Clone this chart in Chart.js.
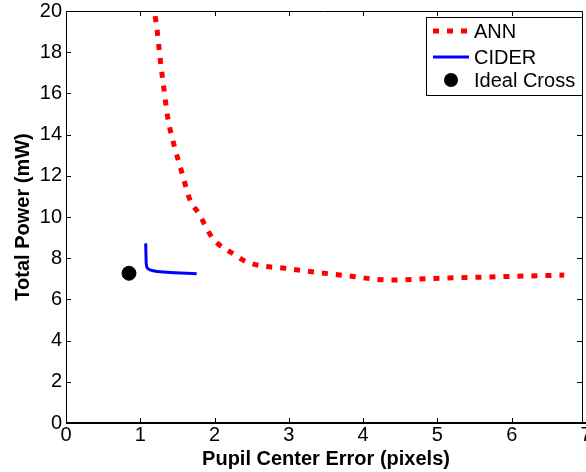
<!DOCTYPE html>
<html>
<head>
<meta charset="utf-8">
<script src="https://cdn.jsdelivr.net/npm/chart.js@4"></script>
<style>
  html, body { margin: 0; padding: 0; background: #fff; }
  #wrap { width: 586px; height: 472px; }
</style>
</head>
<body>
<div id="wrap"><canvas id="c" width="586" height="472"></canvas></div>
<script>
// ANN curve
const annX = [1.2, 1.229, 1.269, 1.319, 1.369, 1.454, 1.561, 1.669, 1.786, 1.975, 2.275, 2.446, 3.015, 3.778, 4.361, 4.944, 5.707, 6.707];
const annY = [19.75, 19.0, 17.62, 16.2, 14.84, 13.5, 12.15, 10.83, 10.18, 8.97, 8.16, 7.8, 7.48, 7.15, 6.94, 7.02, 7.09, 7.18];
// CIDER curve
const ciderX = [1.073, 1.08, 1.1, 1.175, 1.355, 1.759];
const ciderY = [8.72, 7.75, 7.5, 7.39, 7.32, 7.25];
// Ideal cross point
const idealX = [0.848];
const idealY = [7.27];

const xTicks = [0, 1, 2, 3, 4, 5, 6, 7];
const yTicks = [0, 2, 4, 6, 8, 10, 12, 14, 16, 18, 20];

const FONT = 'Helvetica, Arial, "Liberation Sans", sans-serif';
const RIGHT_EDGE = 582; // box border sits a bit left of x = 7

function pts(xs, ys) {
  return xs.map((x, i) => ({ x: x, y: ys[i] }));
}

// frame + inward ticks on all four sides, matlab style
const framePlugin = {
  id: 'frame',
  afterDraw(chart) {
    const { ctx, chartArea: a, scales } = chart;
    const r = RIGHT_EDGE;
    ctx.save();
    ctx.strokeStyle = '#000';
    ctx.lineWidth = 1;
    ctx.beginPath();
    ctx.moveTo(a.left + 0.5, a.bottom);
    ctx.lineTo(a.left + 0.5, a.top + 0.5);
    ctx.lineTo(r + 0.5, a.top + 0.5);
    ctx.lineTo(r + 0.5, a.bottom);
    xTicks.forEach(v => {
      const px = Math.round(scales.x.getPixelForValue(v)) + 0.5;
      if (px > r) return;
      ctx.moveTo(px, a.bottom); ctx.lineTo(px, a.bottom - 5);
      ctx.moveTo(px, a.top); ctx.lineTo(px, a.top + 5);
    });
    yTicks.forEach(v => {
      const py = Math.round(scales.y.getPixelForValue(v)) + 0.5;
      ctx.moveTo(a.left, py); ctx.lineTo(a.left + 5, py);
      ctx.moveTo(r, py); ctx.lineTo(r - 5, py);
    });
    ctx.stroke();
    ctx.lineWidth = 2;
    ctx.beginPath();
    ctx.moveTo(a.left, a.bottom); ctx.lineTo(a.right, a.bottom);
    ctx.stroke();
    ctx.restore();
  }
};

// legend box in top right corner
const legendPlugin = {
  id: 'boxLegend',
  afterDraw(chart) {
    const { ctx } = chart;
    const x0 = 426, y0 = 17, w = 156, h = 78;
    ctx.save();
    ctx.fillStyle = '#fff';
    ctx.fillRect(x0, y0, w, h);
    ctx.strokeStyle = '#000';
    ctx.lineWidth = 1;
    ctx.strokeRect(x0 + 0.5, y0 + 0.5, w, h);
    const rows = [31, 57, 80];
    ctx.font = '20px ' + FONT;
    ctx.textBaseline = 'middle';
    chart.data.datasets.forEach((ds, i) => {
      const y = rows[i];
      if (ds.showLine) {
        ctx.strokeStyle = ds.borderColor;
        ctx.lineWidth = ds.borderWidth;
        ctx.setLineDash(ds.borderDash || []);
        ctx.beginPath();
        ctx.moveTo(433, y); ctx.lineTo(469, y);
        ctx.stroke();
        ctx.setLineDash([]);
      } else {
        ctx.fillStyle = ds.backgroundColor;
        ctx.beginPath();
        ctx.arc(451, y, ds.pointRadius, 0, Math.PI * 2);
        ctx.fill();
      }
      ctx.fillStyle = '#000';
      ctx.fillText(ds.label, 474, y + 1);
    });
    ctx.restore();
  }
};

new Chart(document.getElementById('c').getContext('2d'), {
  type: 'scatter',
  data: {
    datasets: [
      {
        label: 'ANN',
        data: pts(annX, annY),
        showLine: true,
        borderColor: '#ff0000',
        borderWidth: 5,
        borderDash: [6, 8],
        borderCapStyle: 'butt',
        cubicInterpolationMode: 'monotone',
        pointRadius: 0
      },
      {
        label: 'CIDER',
        data: pts(ciderX, ciderY),
        showLine: true,
        borderColor: '#0000ff',
        borderWidth: 3,
        cubicInterpolationMode: 'monotone',
        pointRadius: 0
      },
      {
        label: 'Ideal Cross',
        data: pts(idealX, idealY),
        showLine: false,
        backgroundColor: '#000',
        borderColor: '#000',
        pointRadius: 7
      }
    ]
  },
  options: {
    responsive: false,
    animation: false,
    layout: { autoPadding: false, padding: { top: 11, right: 0, left: 0, bottom: 0 } },
    plugins: {
      legend: { display: false },
      tooltip: { enabled: false }
    },
    scales: {
      x: {
        type: 'linear',
        min: 0,
        max: 7,
        afterBuildTicks: s => { s.ticks = xTicks.map(v => ({ value: v })); },
        afterFit: s => { s.height = 49; s.paddingLeft = 0; s.paddingRight = 0; },
        grid: { display: false, drawTicks: false },
        border: { display: false },
        ticks: { color: '#000', font: { family: FONT, size: 20 }, padding: 0, maxRotation: 0 },
        title: {
          display: true,
          text: 'Pupil Center Error (pixels)',
          color: '#000',
          font: { family: FONT, size: 20, weight: 'bold' },
          padding: { top: 0, bottom: 1 }
        }
      },
      y: {
        type: 'linear',
        min: 0,
        max: 20,
        afterBuildTicks: s => { s.ticks = yTicks.map(v => ({ value: v })); },
        afterFit: s => { s.width = 66; s.paddingTop = 0; s.paddingBottom = 0; },
        grid: { display: false, drawTicks: false },
        border: { display: false },
        ticks: { color: '#000', font: { family: FONT, size: 20 }, padding: 4 },
        title: {
          display: true,
          text: 'Total Power (mW)',
          color: '#000',
          font: { family: FONT, size: 20, weight: 'bold' },
          padding: { top: 11, bottom: 0 }
        }
      }
    }
  },
  plugins: [framePlugin, legendPlugin]
});
</script>
</body>
</html>
